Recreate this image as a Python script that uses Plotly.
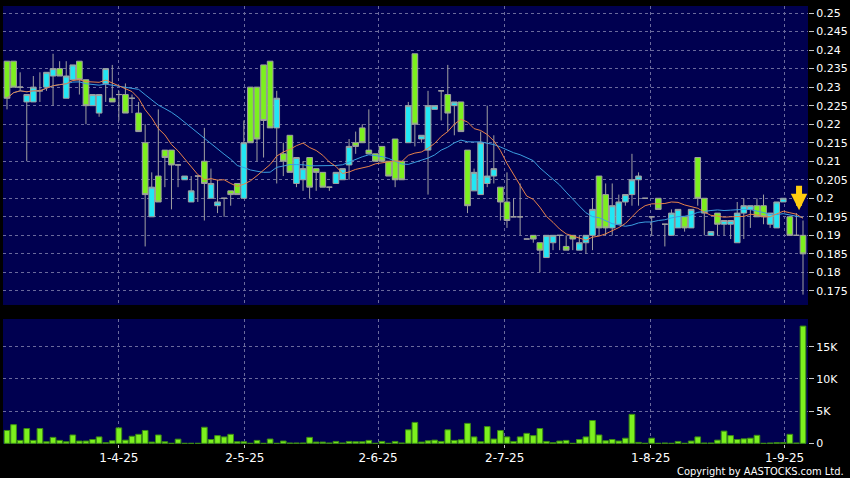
import plotly.graph_objects as go
import pandas as pd

# ---------------- data ----------------
day_index = list(range(1, 123))

open_ = [0.237, 0.237, 0.230, 0.226, 0.226, 0.229, 0.230, 0.233, 0.235, 0.227,
         0.232, 0.237, 0.232, 0.225, 0.223, 0.231, 0.227, 0.228, 0.228, 0.227,
         0.223, 0.215, 0.195, 0.206, 0.213, 0.213, 0.209, 0.205, 0.199, 0.206,
         0.210, 0.200, 0.198, 0.200, 0.202, 0.204, 0.200, 0.230, 0.230, 0.236,
         0.237, 0.219, 0.212, 0.217, 0.204, 0.205, 0.211, 0.208, 0.207, 0.203,
         0.204, 0.205, 0.209, 0.215, 0.219, 0.213, 0.212, 0.214, 0.210, 0.216,
         0.210, 0.215, 0.239, 0.216, 0.213, 0.224, 0.229, 0.228, 0.225, 0.226,
         0.213, 0.202, 0.201, 0.204, 0.206, 0.203, 0.199, 0.195, 0.195, 0.189,
         0.190, 0.188, 0.184, 0.188, 0.190, 0.187, 0.190, 0.186, 0.188, 0.190,
         0.206, 0.201, 0.192, 0.193, 0.199, 0.201, 0.205, 0.200, 0.195, 0.200,
         0.193, 0.190, 0.192, 0.195, 0.192, 0.211, 0.200, 0.190, 0.196, 0.193,
         0.193, 0.188, 0.196, 0.197, 0.198, 0.198, 0.193, 0.192, 0.199, 0.195,
         0.190, 0.190]

high = [0.237, 0.237, 0.234, 0.228, 0.233, 0.234, 0.234, 0.239, 0.237, 0.237,
        0.236, 0.237, 0.232, 0.228, 0.228, 0.235, 0.236, 0.229, 0.231, 0.228,
        0.226, 0.220, 0.207, 0.224, 0.213, 0.213, 0.209, 0.206, 0.206, 0.206,
        0.219, 0.208, 0.205, 0.200, 0.202, 0.204, 0.221, 0.230, 0.230, 0.236,
        0.237, 0.229, 0.215, 0.217, 0.211, 0.210, 0.211, 0.208, 0.207, 0.203,
        0.207, 0.208, 0.216, 0.218, 0.220, 0.224, 0.212, 0.214, 0.210, 0.216,
        0.210, 0.226, 0.239, 0.217, 0.229, 0.225, 0.229, 0.236, 0.226, 0.226,
        0.213, 0.208, 0.218, 0.225, 0.217, 0.203, 0.207, 0.200, 0.204, 0.189,
        0.190, 0.188, 0.190, 0.190, 0.190, 0.190, 0.190, 0.190, 0.190, 0.200,
        0.206, 0.204, 0.204, 0.201, 0.201, 0.212, 0.207, 0.200, 0.195, 0.200,
        0.193, 0.197, 0.197, 0.195, 0.197, 0.211, 0.200, 0.191, 0.196, 0.194,
        0.194, 0.199, 0.200, 0.198, 0.200, 0.201, 0.196, 0.199, 0.200, 0.195,
        0.196, 0.194]

low = [0.224, 0.230, 0.229, 0.210, 0.226, 0.226, 0.229, 0.225, 0.233, 0.227,
       0.232, 0.228, 0.220, 0.225, 0.222, 0.226, 0.226, 0.221, 0.223, 0.223,
       0.218, 0.187, 0.195, 0.199, 0.203, 0.197, 0.203, 0.205, 0.199, 0.199,
       0.194, 0.200, 0.196, 0.195, 0.198, 0.201, 0.200, 0.215, 0.210, 0.211,
       0.219, 0.204, 0.206, 0.207, 0.203, 0.202, 0.200, 0.202, 0.203, 0.202,
       0.204, 0.205, 0.205, 0.212, 0.215, 0.212, 0.210, 0.210, 0.206, 0.203,
       0.205, 0.215, 0.214, 0.215, 0.201, 0.224, 0.221, 0.218, 0.217, 0.218,
       0.196, 0.202, 0.201, 0.203, 0.204, 0.194, 0.192, 0.195, 0.190, 0.189,
       0.188, 0.180, 0.184, 0.186, 0.186, 0.186, 0.186, 0.186, 0.185, 0.186,
       0.190, 0.190, 0.190, 0.193, 0.198, 0.198, 0.198, 0.200, 0.190, 0.197,
       0.187, 0.190, 0.192, 0.191, 0.192, 0.198, 0.190, 0.190, 0.190, 0.190,
       0.189, 0.188, 0.189, 0.192, 0.195, 0.193, 0.192, 0.192, 0.199, 0.190,
       0.190, 0.174]

close = [0.227, 0.230, 0.230, 0.228, 0.230, 0.229, 0.234, 0.235, 0.233, 0.233,
         0.236, 0.232, 0.225, 0.228, 0.228, 0.235, 0.226, 0.228, 0.223, 0.227,
         0.218, 0.201, 0.203, 0.199, 0.211, 0.209, 0.209, 0.206, 0.202, 0.206,
         0.204, 0.204, 0.199, 0.200, 0.201, 0.201, 0.215, 0.215, 0.216, 0.221,
         0.219, 0.227, 0.210, 0.207, 0.211, 0.208, 0.203, 0.207, 0.203, 0.203,
         0.207, 0.208, 0.214, 0.214, 0.215, 0.212, 0.210, 0.210, 0.206, 0.205,
         0.205, 0.225, 0.220, 0.217, 0.225, 0.225, 0.229, 0.223, 0.226, 0.218,
         0.198, 0.207, 0.215, 0.206, 0.208, 0.199, 0.194, 0.195, 0.195, 0.189,
         0.189, 0.186, 0.190, 0.190, 0.190, 0.186, 0.189, 0.188, 0.190, 0.197,
         0.192, 0.192, 0.198, 0.199, 0.201, 0.205, 0.206, 0.200, 0.195, 0.197,
         0.193, 0.196, 0.197, 0.192, 0.197, 0.200, 0.196, 0.191, 0.193, 0.194,
         0.194, 0.196, 0.198, 0.198, 0.195, 0.195, 0.196, 0.199, 0.200, 0.190,
         0.190, 0.185]

volume = [2000, 2900, 460, 2300, 460, 2300, 250, 930, 460, 250,
          1300, 360, 360, 600, 1000, 100, 400, 2400, 500, 1100,
          1400, 2000, 200, 1300, 250, 0, 650, 0, 0, 0,
          2500, 600, 1200, 1000, 1400, 250, 250, 0, 460, 0,
          670, 0, 360, 50, 50, 50, 930, 200, 200, 50,
          300, 50, 300, 250, 250, 460, 0, 300, 0, 300,
          50, 2100, 3250, 200, 400, 500, 300, 2100, 460, 550,
          3100, 1000, 250, 2600, 670, 2000, 1000, 300, 1000, 1550,
          1200, 2300, 300, 100, 360, 460, 0, 600, 1000, 3550,
          1300, 400, 600, 360, 800, 4500, 150, 0, 800, 0,
          50, 0, 300, 0, 360, 1000, 50, 50, 500, 1900,
          1200, 600, 700, 800, 1250, 0, 50, 100, 100, 1400,
          50, 18200]

date_ticks = [18.0, 37.15, 57.4, 76.65, 98.85, 119.2]
date_labels = ["1-4-25", "2-5-25", "2-6-25", "2-7-25", "1-8-25", "1-9-25"]

price_ticks = [0.175, 0.18, 0.185, 0.19, 0.195, 0.2, 0.205, 0.21,
               0.215, 0.22, 0.225, 0.23, 0.235, 0.24, 0.245, 0.25]
price_labels = ["0.175", "0.18", "0.185", "0.19", "0.195", "0.2", "0.205", "0.21",
                "0.215", "0.22", "0.225", "0.23", "0.235", "0.24", "0.245", "0.25"]

vol_ticks = [0, 5000, 10000, 15000]
vol_labels = ["0", "5K", "10K", "15K"]

ma_short = pd.Series(close).rolling(10, min_periods=1).mean()
ma_long = pd.Series(close).rolling(20, min_periods=1).mean()

# ---------------- styling ----------------
NAVY = "#000050"
GRID = "#6a6a9c"
GREEN = "#7cf01e"
CYAN = "#22e6f4"
WICK = "#a0a0a0"
FONT = "DejaVu Sans"

fig = go.Figure()

fig.add_trace(go.Candlestick(
    x=day_index, open=open_, high=high, low=low, close=close,
    increasing=dict(fillcolor=CYAN, line=dict(color=WICK, width=1)),
    decreasing=dict(fillcolor=GREEN, line=dict(color=WICK, width=1)),
    whiskerwidth=0, xaxis="x", yaxis="y", showlegend=False, hoverinfo="skip"))

fig.add_trace(go.Scatter(x=day_index, y=ma_long, mode="lines",
                         line=dict(color="#3c9fe0", width=1),
                         xaxis="x", yaxis="y", showlegend=False, hoverinfo="skip"))
fig.add_trace(go.Scatter(x=day_index, y=ma_short, mode="lines",
                         line=dict(color="#e8824a", width=1),
                         xaxis="x", yaxis="y", showlegend=False, hoverinfo="skip"))

fig.add_trace(go.Bar(x=day_index, y=volume,
                     marker=dict(color=GREEN, line=dict(color="#3c8c14", width=1)),
                     xaxis="x2", yaxis="y2", showlegend=False, hoverinfo="skip"))

xr = [0.39, 122.76]
grid_common = dict(showgrid=True, gridcolor=GRID, gridwidth=1, griddash="3px,3px",
                   zeroline=False, showline=False)

fig.update_layout(
    width=850, height=478,
    paper_bgcolor="black", plot_bgcolor=NAVY,
    margin=dict(l=3, r=42, t=6, b=34, autoexpand=False),
    boxgap=0.14, boxgroupgap=0, bargap=0.14,
    font=dict(family=FONT, color="white", size=11),
    xaxis=dict(domain=[0, 1], anchor="y", range=xr, tickmode="array",
               tickvals=date_ticks, showticklabels=False, ticks="",
               rangeslider=dict(visible=False), **grid_common),
    yaxis=dict(domain=[0.3174, 1], anchor="x", side="right", range=[0.1712, 0.2519],
               tickmode="array", tickvals=price_ticks, ticktext=price_labels,
               ticks="outside", ticklen=5, tickcolor="#c8c8c8",
               tickfont=dict(family=FONT, size=11, color="white"), **grid_common),
    xaxis2=dict(domain=[0, 1], anchor="y2", range=xr, tickmode="array",
                tickvals=date_ticks, ticktext=date_labels,
                ticks="outside", ticklen=3, tickcolor="#c8c8c8",
                tickfont=dict(family=FONT, size=12, color="white"), **grid_common),
    yaxis2=dict(domain=[0, 0.2854], anchor="x2", side="right", range=[-100, 19300],
                tickmode="array", tickvals=vol_ticks, ticktext=vol_labels,
                ticks="outside", ticklen=5, tickcolor="#c8c8c8",
                tickfont=dict(family=FONT, size=11, color="white"), **grid_common),
)

# yellow down arrow marking the latest session
fig.add_annotation(x=121.4, y=0.1968, xref="x", yref="y", text="",
                   showarrow=True, ax=0, ay=-26, arrowhead=2, arrowsize=0.55,
                   arrowwidth=6, arrowcolor="#ffcc10", standoff=0)

fig.add_annotation(x=1.047, y=-0.0632, xref="paper", yref="paper",
                   text="Copyright by AASTOCKS.com Ltd.", showarrow=False,
                   xanchor="right", yanchor="middle",
                   font=dict(family="DejaVu Sans Condensed, DejaVu Sans", size=11, color="white"))

fig.write_html("out.html", config={"displayModeBar": False},
               post_script="document.body.style.margin='0';document.body.style.background='black';")
